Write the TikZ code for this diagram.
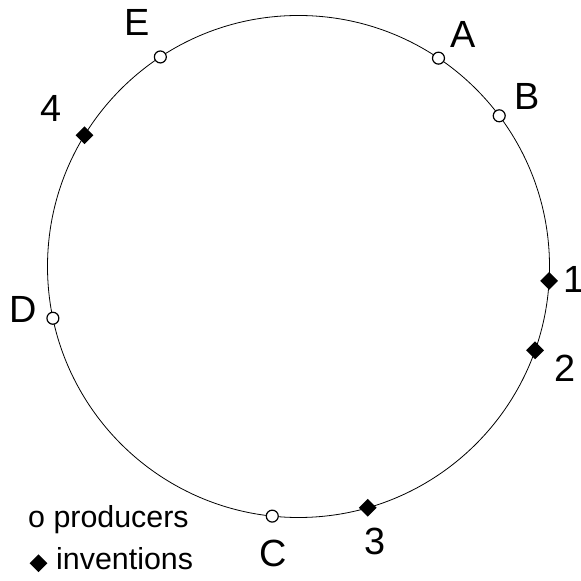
\documentclass[tikz,border=0pt]{standalone}
\usepackage{fontspec}
\setmainfont{Liberation Sans}
\usetikzlibrary{shapes.geometric}
\tikzset{
  prod/.style={circle,draw,fill=white,line width=1.2pt,inner sep=0pt,minimum size=12},
  inven/.style={diamond,fill=black,inner sep=0pt,minimum size=18},
  lbl/.style={inner sep=0pt,font=\fontsize{38}{44}\selectfont},
  legtext/.style={inner sep=0pt,anchor=base west,font=\fontsize{30.5}{36}\selectfont}
}
\begin{document}
\begin{tikzpicture}[x=1bp,y=1bp]
  \useasboundingbox (0,0) rectangle (581,581);
  \coordinate (O) at (298.5,314.5);
  \draw[line width=0.8pt] (O) circle (251);
  % producers on the ring
  \foreach \n/\a/\dx/\dy in {A/56.1/24.3/23.6, B/36.9/28.4/18.9, C/-96/0.8/-37.3,
                             D/191.9/-29.7/9.2, E/123.4/-23.1/34.3} {
    \node[prod] (\n) at ([shift={(\a:251)}]O) {};
    \node[lbl] (l\n) at ([shift={(\dx,\dy)}]\n) {\n};
  }
  % inventions on the ring
  \foreach \n/\a/\dx/\dy in {1/-3.3/25.4/1.2, 2/-19.5/30.4/-17.8,
                             3/-74/7.7/-33.3, 4/148.5/-33.9/26.4} {
    \node[inven] (i\n) at ([shift={(\a:251)}]O) {};
    \node[lbl] (li\n) at ([shift={(\dx,\dy)}]i\n) {\n};
  }
  % legend
  \node[legtext] (lgprod) at (28,53) {o producers};
  \node[inven] (lgdia) at (38.5,17.7) {};
  \node[legtext] (lginv) at (56,11) {inventions};
\end{tikzpicture}
\end{document}
